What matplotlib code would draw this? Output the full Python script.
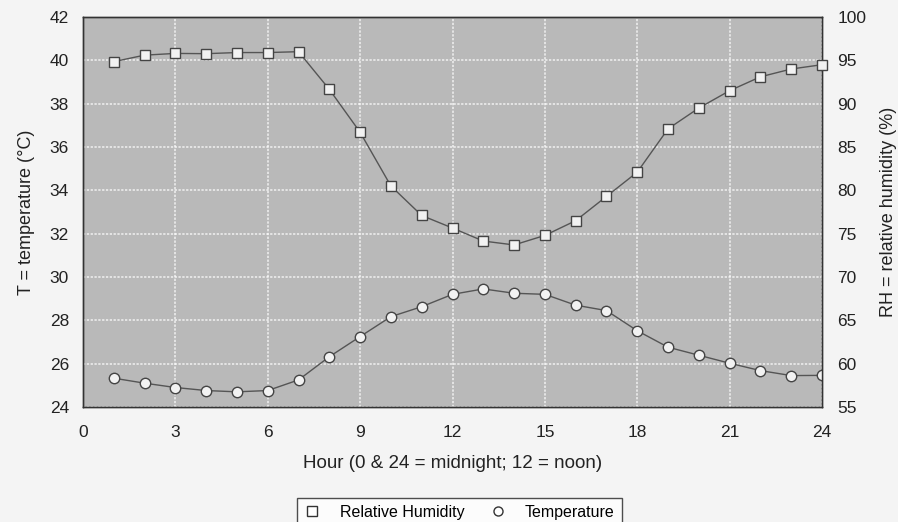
import matplotlib
matplotlib.use("Agg")
import matplotlib.pyplot as plt
from matplotlib.lines import Line2D

plt.rcParams['font.family'] = ['Liberation Sans', 'DejaVu Sans']

# data
hours = list(range(1, 25))
temperature = [25.33, 25.1, 24.9, 24.76, 24.7, 24.76, 25.25, 26.32, 27.25, 28.17, 28.63, 29.2,
               29.45, 29.25, 29.2, 28.7, 28.45, 27.52, 26.76, 26.39, 26.02, 25.68, 25.45, 25.46]
humidity = [94.85, 95.6, 95.8, 95.77, 95.9, 95.9, 96.0, 91.65, 86.7, 80.5, 77.1, 75.65,
            74.15, 73.7, 74.8, 76.5, 79.3, 82.1, 87.1, 89.5, 91.5, 93.1, 94.0, 94.5]
x_ticks = [0, 3, 6, 9, 12, 15, 18, 21, 24]
t_ticks = [24, 26, 28, 30, 32, 34, 36, 38, 40, 42]
rh_ticks = [55, 60, 65, 70, 75, 80, 85, 90, 95, 100]

fig = plt.figure(figsize=(8.98, 5.22), dpi=100, facecolor='#f4f4f4')
ax = fig.add_axes([0.0924, 0.2203, 0.823, 0.7471])
ax.set_facecolor('#b9b9b9')
ax2 = ax.twinx()

ax.set_xlim(0, 24)
ax.set_ylim(24, 42)
ax2.set_ylim(55, 100)
ax.set_xticks(x_ticks)
ax.set_yticks(t_ticks)
ax2.set_yticks(rh_ticks)

ax.grid(True, color='white', linestyle=(0, (1.5, 1)), linewidth=1.1, alpha=0.8)
ax.set_axisbelow(True)

ax.plot(hours, temperature, color='#555555', linewidth=1.0, marker='o', markersize=7.5,
        markerfacecolor='#f2f2f2', markeredgecolor='#444444', markeredgewidth=1.0, zorder=3)
ax2.plot(hours, humidity, color='#555555', linewidth=1.0, marker='s', markersize=7.5,
         markerfacecolor='#f2f2f2', markeredgecolor='#444444', markeredgewidth=1.0,
         clip_on=False, zorder=3)

for a in (ax, ax2):
    a.tick_params(length=0, labelsize=12.5, colors='#222222')
    for s in a.spines.values():
        s.set_color('#333333')
        s.set_linewidth(1.0)
ax.tick_params(axis='x', pad=13)
ax.tick_params(axis='y', pad=10)
ax2.tick_params(axis='y', pad=11)

ax.set_xlabel('Hour (0 & 24 = midnight; 12 = noon)', fontsize=13.5, labelpad=11, color='#222222')
ax.set_ylabel('T = temperature (°C)', fontsize=13, labelpad=11, color='#222222')
ax2.set_ylabel('RH = relative humidity (%)', fontsize=13, labelpad=10, color='#222222')

handles = [
    Line2D([], [], linestyle='none', marker='s', markersize=6.5, markerfacecolor='white',
           markeredgecolor='#333333', label='Relative Humidity'),
    Line2D([], [], linestyle='none', marker='o', markersize=6.5, markerfacecolor='white',
           markeredgecolor='#333333', label='Temperature'),
]
leg = fig.legend(handles=handles, loc='lower center', bbox_to_anchor=(0.5117, -0.025), ncol=2,
                 frameon=True, fancybox=False, fontsize=11.5, handlelength=1.0,
                 handletextpad=1.2, columnspacing=1.6, borderpad=0.45)
leg.get_frame().set_edgecolor('#222222')
leg.get_frame().set_facecolor('white')
leg.get_frame().set_linewidth(1.0)

fig.savefig('out.png', dpi=100, facecolor=fig.get_facecolor())
